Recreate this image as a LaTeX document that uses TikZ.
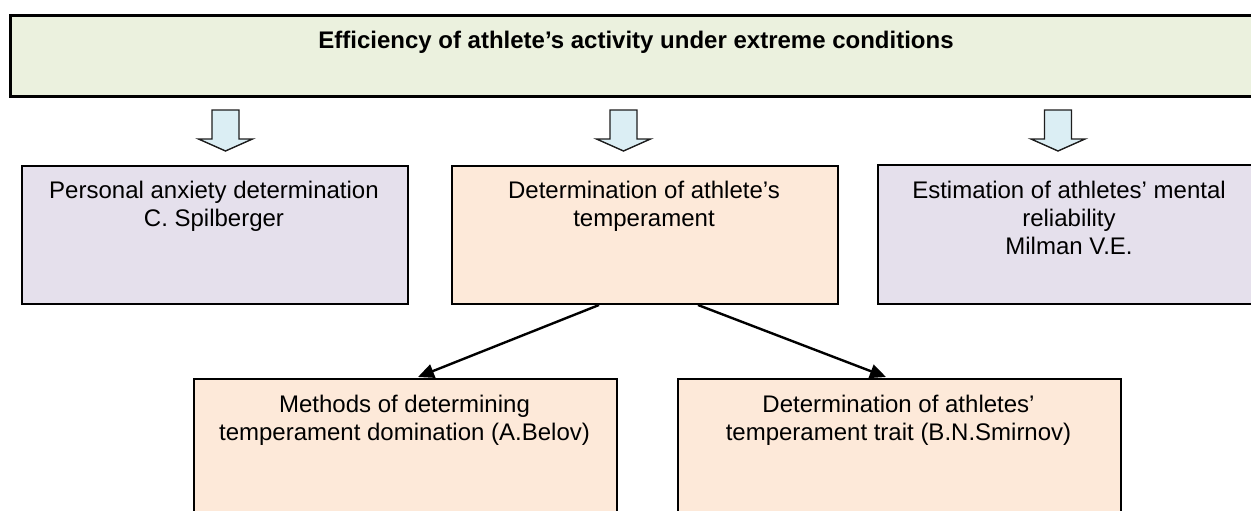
\documentclass[tikz,border=0pt]{standalone}
\usepackage{fontspec}
\setmainfont{Liberation Sans}
\usetikzlibrary{arrows.meta}
\definecolor{titlefill}{RGB}{235,241,222}
\definecolor{purplefill}{RGB}{229,224,236}
\definecolor{orangefill}{RGB}{253,233,217}
\definecolor{arrowfill}{RGB}{219,238,244}
\definecolor{arrowline}{RGB}{30,30,30}
\tikzset{
  box/.style={draw=black, line width=2pt, rectangle, inner sep=0pt, anchor=north west},
  txt/.style={anchor=north, align=center, inner sep=0pt, font=\fontsize{24}{28}\selectfont},
  btxt/.style={anchor=base, inner sep=0pt, font=\fontsize{24}{28}\selectfont\bfseries},
  conn/.style={line width=2.4pt, -{Triangle[length=16pt,width=14pt]}},
  pics/downarrow/.style={code={
    \draw[fill=arrowfill, draw=arrowline, line width=1.4pt, line join=miter]
      (-13.5,0) -- (13.5,0) -- (13.5,29) -- (27,29) -- (0,41) -- (-27,29) -- (-13.5,29) -- cycle;
  }}
}
\begin{document}
\begin{tikzpicture}[x=1pt, y=-1pt]
\useasboundingbox (0,0) rectangle (1251,511);
\clip (0,0) rectangle (1251,511);

% title box
\node[box, fill=titlefill, line width=2.6pt, minimum width=1256pt, minimum height=81pt] (top) at (9,14) {};
\node[btxt] (toptxt) at (636,49) {Efficiency of athlete’s activity under extreme conditions};

% block arrows
\pic at (225.5,110) {downarrow};
\pic at (623.5,110) {downarrow};
\pic at (1058,110) {downarrow};

% second row
\node[box, fill=purplefill, minimum width=386pt, minimum height=138pt] (b1) at (21,165) {};
\node[txt] (t1) at (214,180.5) {Personal anxiety determination\\C. Spilberger};

\node[box, fill=orangefill, minimum width=386pt, minimum height=138pt] (b2) at (451,165) {};
\node[txt] (t2) at (644,180.5) {Determination of athlete’s\\temperament};

\node[box, fill=purplefill, minimum width=390pt, minimum height=139pt] (b3) at (877,164) {};
\node[txt] (t3) at (1069,180.5) {Estimation of athletes’ mental\\reliability\\Milman V.E.};

% third row
\node[box, fill=orangefill, minimum width=423pt, minimum height=160pt] (b4) at (193,378) {};
\node[txt] (t4) at (404.5,394.5) {Methods of determining\\temperament domination (A.Belov)};

\node[box, fill=orangefill, minimum width=443pt, minimum height=160pt] (b5) at (677,378) {};
\node[txt] (t5) at (898.5,394.5) {Determination of athletes’\\temperament trait (B.N.Smirnov)};

% connectors
\draw[conn] ([xshift=-46pt]b2.south) -- ([xshift=12.5pt,yshift=1pt]b4.north);
\draw[conn] ([xshift=53pt]b2.south) -- ([xshift=-13.5pt,yshift=1pt]b5.north);
\end{tikzpicture}
\end{document}
